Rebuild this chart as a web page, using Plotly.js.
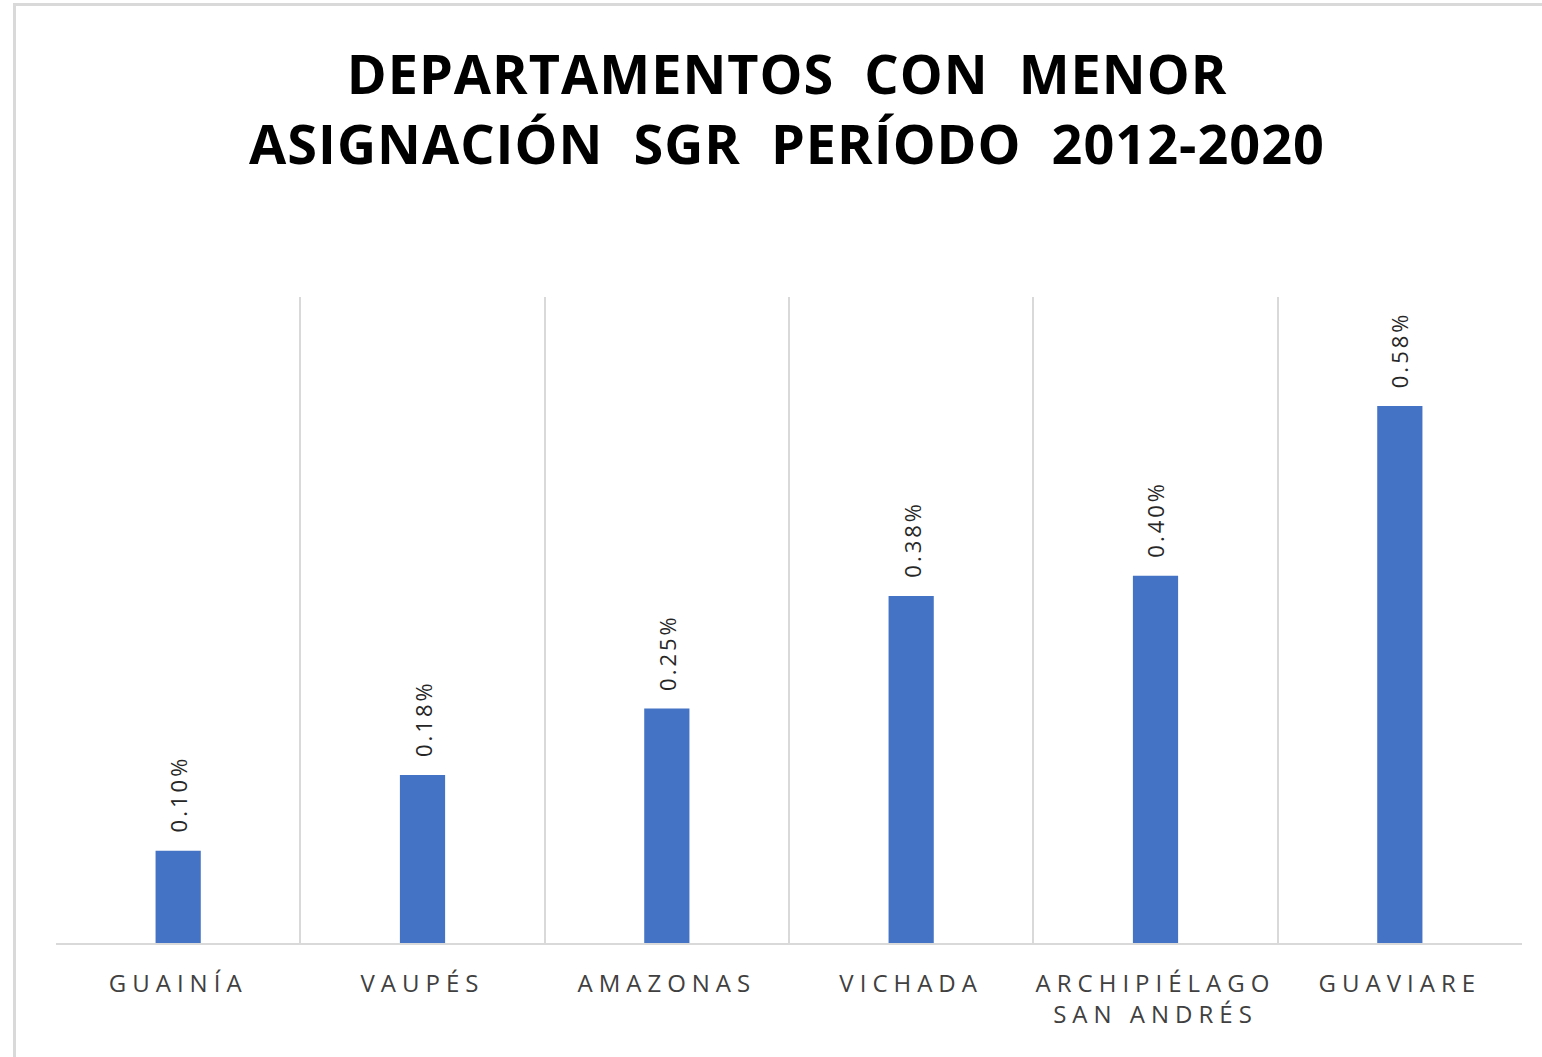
<!DOCTYPE html>
<html>
<head>
<meta charset="utf-8">
<script src="https://cdn.plot.ly/plotly-3.0.1.min.js"></script>
<style>
  html, body { margin: 0; padding: 0; background: #ffffff; }
  #wrap { position: relative; width: 1542px; height: 1057px; overflow: hidden; }
  #frame { position: absolute; left: 13px; top: 3px; width: 1600px; height: 1100px;
           border-left: 3px solid #d9d9d9; border-top: 3px solid #d9d9d9; pointer-events: none; z-index: 5; }
  .gtitle { letter-spacing: 1px; }
  .xtick text { letter-spacing: 6px; }
  .annotation-text { letter-spacing: 3px; }
</style>
</head>
<body>
<div id="wrap">
  <div id="chart" style="width:1542px;height:1057px;"></div>
  <div id="frame"></div>
</div>
<script>
const categories = ["GUAINÍA", "VAUPÉS", "AMAZONAS", "VICHADA", "ARCHIPIÉLAGO<br>SAN ANDRÉS", "GUAVIARE"];
const values = [0.00100, 0.00182, 0.00254, 0.00376, 0.00398, 0.00582];
const titleText = "DEPARTAMENTOS  CON  MENOR<br>ASIGNACIÓN  SGR  PERÍODO  2012-2020";

const trace = {
  type: "bar",
  x: categories,
  y: values,
  marker: { color: "#4472C4" },
  hoverinfo: "none"
};

const annotations = categories.map((c, i) => ({
  x: c,
  y: values[i],
  xref: "x",
  yref: "y",
  text: (values[i] * 100).toFixed(2) + "%",
  textangle: -90,
  showarrow: false,
  yanchor: "bottom",
  xanchor: "center",
  yshift: 16,
  font: { family: "Open Sans", size: 22, color: "#262626" }
}));

const layout = {
  width: 1542,
  height: 1057,
  margin: { l: 56, r: 20, t: 297, b: 114 },
  paper_bgcolor: "#ffffff",
  plot_bgcolor: "#ffffff",
  showlegend: false,
  bargap: 0.815,
  title: {
    text: titleText,
    x: 0.5104,
    xref: "container",
    xanchor: "center",
    y: 1 - 94 / 1057,
    yref: "container",
    yanchor: "top",
    font: { family: "Open Sans", size: 54, color: "#000000", weight: 700 }
  },
  xaxis: {
    type: "category",
    showgrid: true,
    tickson: "boundaries",
    gridcolor: "#d9d9d9",
    gridwidth: 2,
    showline: true,
    linecolor: "#d9d9d9",
    linewidth: 2,
    ticks: "",
    ticklen: 0,
    ticklabelstandoff: 18,
    tickfont: { family: "Open Sans", size: 24, color: "#404040" },
    fixedrange: true
  },
  yaxis: {
    range: [0, 0.007],
    visible: false,
    showgrid: false,
    zeroline: false,
    fixedrange: true
  },
  annotations: annotations
};

Plotly.newPlot("chart", [trace], layout, { displayModeBar: false, staticPlot: true });
</script>
</body>
</html>
